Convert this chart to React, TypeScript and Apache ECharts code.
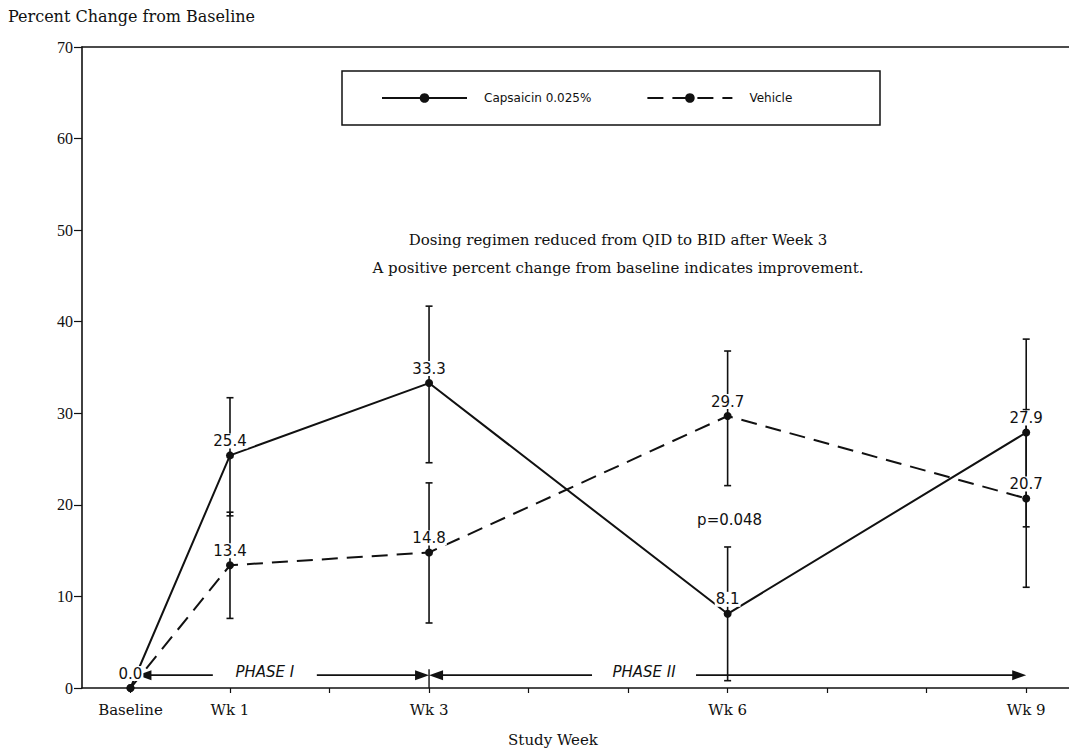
import React, { useEffect, useRef } from "react";
import * as echarts from "echarts";

// ---- data ----
const weekTicks = [0, 1, 2, 3, 4, 5, 6, 7, 8, 9];
const weekValues = [0, 1, 3, 6, 9];
const weekLabels = ["Baseline", "Wk 1", "Wk 3", "Wk 6", "Wk 9"];

const seriesNames = ["Capsaicin 0.025%", "Vehicle"];
const capsaicin = [0.0, 25.4, 33.3, 8.1, 27.9];
const vehicle = [0.0, 13.4, 14.8, 29.7, 20.7];
const capsaicinLow = [null, 18.8, 24.6, 0.8, 17.6];
const capsaicinHigh = [null, 31.7, 41.7, 15.4, 38.1];
const vehicleLow = [null, 7.6, 7.1, 22.1, 11.0];
const vehicleHigh = [null, 19.2, 22.4, 36.8, 30.4];

const yMin = 0;
const yMax = 70;
const yInterval = 10;

const phaseLabels = ["PHASE I", "PHASE II"];
const phaseStart = [0.07, 3.0];
const phaseEnd = [3.0, 9.0];
const phaseTextAt = [1.35, 5.16];
const phaseLevel = 1.4;

const noteLines = [
  "Dosing regimen reduced from QID to BID after Week 3",
  "A positive percent change from baseline indicates improvement.",
];
const pValueText = "p=0.048";

const INK = "#111";
const SERIF = "'DejaVu Serif', 'Liberation Serif', serif";
const SANS = "'DejaVu Sans', 'Liberation Sans', sans-serif";

function errData(lo: (number | null)[], hi: (number | null)[]) {
  const out: number[][] = [];
  weekValues.forEach((w, i) => {
    if (lo[i] != null && hi[i] != null) out.push([w, lo[i] as number, hi[i] as number]);
  });
  return out;
}

function lineData(vals: number[], hideFirstLabel: boolean) {
  return vals.map((v, i) =>
    hideFirstLabel && i === 0
      ? { value: [weekValues[i], v], label: { show: false } }
      : { value: [weekValues[i], v] }
  );
}

const errRender = (params: any, api: any) => {
  const x = api.value(0);
  const lo = api.value(1);
  const hi = api.value(2);
  const a = api.coord([x, lo]);
  const b = api.coord([x, hi]);
  const cap = 3.5;
  const st = { stroke: INK, lineWidth: 1.6 };
  return {
    type: "group",
    children: [
      { type: "line", shape: { x1: a[0], y1: a[1], x2: b[0], y2: b[1] }, style: st },
      { type: "line", shape: { x1: a[0] - cap, y1: a[1], x2: a[0] + cap, y2: a[1] }, style: st },
      { type: "line", shape: { x1: b[0] - cap, y1: b[1], x2: b[0] + cap, y2: b[1] }, style: st },
    ],
  };
};

export default function App() {
  const ref = useRef<HTMLDivElement>(null);

  useEffect(() => {
    if (!ref.current) return;
    const chart = echarts.init(ref.current, undefined, { renderer: "svg" });

    const labelStyle = {
      show: true,
      position: "top",
      distance: 3,
      fontFamily: SANS,
      fontSize: 15,
      color: INK,
      backgroundColor: "#fff",
      padding: [0, 1],
      formatter: (p: any) => Number(p.value[1]).toFixed(1),
    };

    const option: any = {
      animation: false,
      backgroundColor: "#fff",
      grid: { left: 82, right: 0, top: 47, bottom: 64, containLabel: false },
      xAxis: [
        {
          type: "value",
          min: -0.487,
          max: 9.43,
          axisLine: { show: true, onZero: false, lineStyle: { color: INK, width: 1.6 } },
          axisTick: {
            show: true,
            customValues: weekTicks,
            length: 5,
            inside: false,
            lineStyle: { color: INK, width: 1.2 },
          },
          axisLabel: {
            show: true,
            customValues: weekValues,
            margin: 14,
            fontFamily: SERIF,
            fontSize: 15,
            color: INK,
            formatter: (v: number) => {
              const i = weekValues.indexOf(v);
              return i >= 0 ? weekLabels[i] : "";
            },
          },
          splitLine: { show: false },
        },
        {
          type: "value",
          position: "top",
          min: -0.487,
          max: 9.43,
          axisLine: { show: true, onZero: false, lineStyle: { color: INK, width: 1.6 } },
          axisTick: { show: false },
          axisLabel: { show: false },
          splitLine: { show: false },
        },
      ],
      yAxis: {
        type: "value",
        min: yMin,
        max: yMax,
        interval: yInterval,
        axisLine: { show: true, onZero: false, lineStyle: { color: INK, width: 1.6 } },
        axisTick: { show: true, length: 8, lineStyle: { color: INK, width: 1.2 } },
        axisLabel: {
          margin: 9,
          fontFamily: "'Liberation Serif', serif",
          fontSize: 16,
          color: INK,
        },
        splitLine: { show: false },
      },
      legend: {
        data: seriesNames,
        left: 381,
        top: 92,
        itemWidth: 85,
        itemHeight: 12,
        itemGap: 55,
        padding: 0,
        textStyle: { fontFamily: SANS, fontSize: 12, color: INK, padding: [0, 0, 0, 12] },
      },
      series: [
        {
          type: "custom",
          name: "capsaicin-err",
          xAxisIndex: 0,
          yAxisIndex: 0,
          renderItem: errRender,
          data: errData(capsaicinLow, capsaicinHigh),
          encode: { x: 0, y: [1, 2] },
          z: 1,
          silent: true,
        },
        {
          type: "custom",
          name: "vehicle-err",
          xAxisIndex: 0,
          yAxisIndex: 0,
          renderItem: errRender,
          data: errData(vehicleLow, vehicleHigh),
          encode: { x: 0, y: [1, 2] },
          z: 1,
          silent: true,
        },
        {
          type: "line",
          name: seriesNames[0],
          xAxisIndex: 0,
          yAxisIndex: 0,
          data: lineData(capsaicin, false),
          symbol: "circle",
          symbolSize: 8,
          itemStyle: { color: INK },
          lineStyle: { color: INK, width: 2, type: "solid" },
          label: labelStyle,
          z: 3,
        },
        {
          type: "line",
          name: seriesNames[1],
          xAxisIndex: 0,
          yAxisIndex: 0,
          data: lineData(vehicle, true),
          symbol: "circle",
          symbolSize: 8,
          itemStyle: { color: INK },
          lineStyle: { color: INK, width: 2, type: [16, 9] },
          label: labelStyle,
          z: 3,
        },
      ],
    };

    chart.setOption(option);

    const toPx = (x: number, y: number) =>
      chart.convertToPixel({ seriesIndex: 2 }, [x, y]) as number[];

    const graphics: any[] = [];
    // title & axis name
    graphics.push({
      type: "text",
      left: 8,
      top: 8,
      style: { text: "Percent Change from Baseline", font: `16px ${SERIF}`, fill: INK },
    });
    graphics.push({
      type: "text",
      x: 553,
      y: 740,
      style: {
        text: "Study Week",
        font: `15px ${SERIF}`,
        fill: INK,
        align: "center",
        verticalAlign: "middle",
      },
    });
    // legend box
    graphics.push({
      type: "rect",
      shape: { x: 342, y: 71, width: 538, height: 54 },
      style: { fill: "none", stroke: INK, lineWidth: 1.5 },
      z: 0,
    });
    // notes
    noteLines.forEach((t, i) => {
      graphics.push({
        type: "text",
        x: 618,
        y: 240 + i * 28,
        style: { text: t, font: `15px ${SERIF}`, fill: INK, align: "center", verticalAlign: "middle" },
      });
    });
    // p-value
    const pv = toPx(weekValues[3], 18.3);
    graphics.push({
      type: "text",
      x: pv[0] + 2,
      y: pv[1],
      z: 10,
      style: {
        text: pValueText,
        font: `15px ${SANS}`,
        fill: INK,
        align: "center",
        verticalAlign: "middle",
        backgroundColor: "#fff",
        padding: [2, 2],
      },
    });

    // phase arrows
    const head = 14;
    const half = 5;
    phaseLabels.forEach((lab, i) => {
      const a = toPx(phaseStart[i], phaseLevel);
      const b = toPx(phaseEnd[i], phaseLevel);
      const c = toPx(phaseTextAt[i], phaseLevel);
      const gap = 52;
      const st = { stroke: INK, lineWidth: 1.8 };
      graphics.push({ type: "line", shape: { x1: a[0] + head - 1, y1: a[1], x2: c[0] - gap, y2: a[1] }, style: st });
      graphics.push({ type: "line", shape: { x1: c[0] + gap, y1: a[1], x2: b[0] - head + 1, y2: b[1] }, style: st });
      graphics.push({
        type: "polygon",
        shape: { points: [[a[0], a[1]], [a[0] + head, a[1] - half], [a[0] + head, a[1] + half]] },
        style: { fill: INK },
      });
      graphics.push({
        type: "polygon",
        shape: { points: [[b[0], b[1]], [b[0] - head, b[1] - half], [b[0] - head, b[1] + half]] },
        style: { fill: INK },
      });
      graphics.push({
        type: "text",
        x: c[0],
        y: c[1] - 3,
        style: {
          text: lab,
          font: `italic 15px ${SANS}`,
          fill: INK,
          align: "center",
          verticalAlign: "middle",
        },
      });
    });
    // divider tick at Week 3
    const d0 = toPx(phaseEnd[0], 0);
    const d1 = toPx(phaseEnd[0], phaseLevel);
    graphics.push({
      type: "line",
      shape: { x1: d0[0], y1: d0[1], x2: d1[0], y2: d1[1] - 6 },
      style: { stroke: INK, lineWidth: 1.4 },
    });

    chart.setOption({ graphic: graphics });

    return () => chart.dispose();
  }, []);

  return (
    <div
      ref={ref}
      style={{ position: "fixed", left: 0, top: 0, width: 1069, height: 752, background: "#fff" }}
    />
  );
}
